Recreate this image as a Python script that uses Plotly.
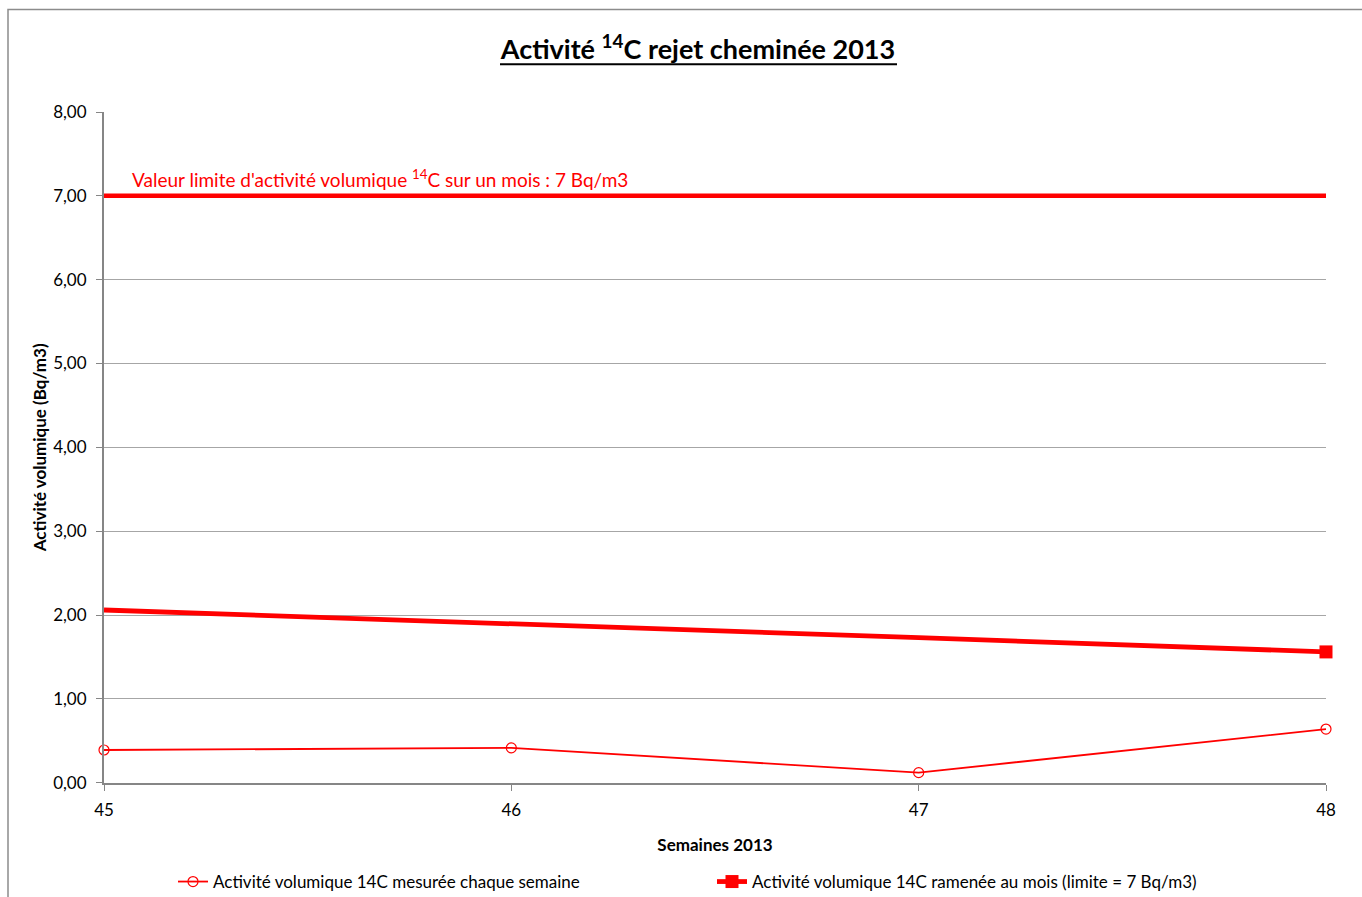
import plotly.graph_objects as go

weeks = [45, 46, 47, 48]
weekly_values = [0.39, 0.415, 0.12, 0.64]
monthly_values = [2.06, 1.90, 1.73, 1.56]
limit_x = [45, 48]
limit_values = [7.0, 7.0]
y_ticks = [0, 1, 2, 3, 4, 5, 6, 7, 8]

FONT = "Lato, Carlito, Calibri, sans-serif"
RED = "#FF0000"

W, H = 1362, 897
L, R, T, B = 104, 36, 112, 111
PW, PH = W - L - R, H - T - B


def px_x(x):
    return (x - L) / PW


def px_y(y):
    return (H - B - y) / PH


fig = go.Figure()

fig.add_trace(go.Scatter(
    x=limit_x, y=limit_values, mode="lines",
    line=dict(color=RED, width=4.5), showlegend=False, hoverinfo="skip",
))

fig.add_trace(go.Scatter(
    x=weeks, y=weekly_values, mode="lines+markers",
    name="Activité volumique 14C mesurée chaque semaine",
    line=dict(color=RED, width=1.8),
    marker=dict(symbol="circle-open", size=10, color=RED, line=dict(width=1.2, color=RED)),
    cliponaxis=False,
))

fig.add_trace(go.Scatter(
    x=weeks, y=monthly_values, mode="lines",
    line=dict(color=RED, width=4.8), showlegend=False,
    cliponaxis=False,
))

# final monthly value carries the square marker (and the legend entry)
fig.add_trace(go.Scatter(
    x=weeks[-1:], y=monthly_values[-1:], mode="lines+markers",
    name="Activité volumique 14C ramenée au mois (limite = 7 Bq/m3)",
    line=dict(color=RED, width=4.8),
    marker=dict(symbol="square", size=13, color=RED),
    cliponaxis=False,
))

fig.add_annotation(
    x=45, y=7.0, xref="x", yref="y",
    text="Valeur limite d'activité volumique <sup>14</sup>C sur un mois : 7 Bq/m3",
    showarrow=False, xanchor="left", yanchor="bottom", xshift=26, yshift=3,
    font=dict(family=FONT, size=19, color=RED),
)

# outer chart border (cropped on right/bottom)
fig.add_shape(type="rect", xref="paper", yref="paper",
              x0=px_x(8), x1=1.3, y0=-0.4, y1=px_y(9),
              line=dict(color="#8C8C8C", width=1.5), fillcolor="rgba(0,0,0,0)", layer="below")

# title underline
fig.add_shape(type="line", xref="paper", yref="paper",
              x0=px_x(500), x1=px_x(897), y0=px_y(64), y1=px_y(64),
              line=dict(color="black", width=1.8))

fig.update_layout(
    width=W, height=H,
    margin=dict(l=L, r=R, t=T, b=B),
    paper_bgcolor="white", plot_bgcolor="white",
    separators=", ",
    font=dict(family=FONT, size=17, color="black"),
    title=dict(
        text="<b>Activité <sup>14</sup>C rejet cheminée 2013</b>",
        xref="container", yref="container",
        x=698 / W, xanchor="center", y=1 - 50 / H, yanchor="middle",
        font=dict(family=FONT, size=27, color="black"),
    ),
    xaxis=dict(
        range=[45, 48], tickvals=weeks, ticktext=[str(w) for w in weeks],
        showgrid=False, zeroline=False,
        showline=True, linecolor="#868686", linewidth=2,
        ticks="outside", ticklen=6, tickcolor="#868686",
        tickfont=dict(family=FONT, size=17), ticklabelstandoff=5,
        title=dict(text="<b>Semaines 2013</b>", font=dict(family=FONT, size=17), standoff=20),
    ),
    yaxis=dict(
        range=[0, 8], tickvals=y_ticks, tickformat=".2f",
        showgrid=True, gridcolor="#A6A6A6", gridwidth=1.3, zeroline=False,
        showline=True, linecolor="#868686", linewidth=2,
        ticks="outside", ticklen=6, tickcolor="#868686",
        tickfont=dict(family=FONT, size=17), ticklabelstandoff=6,
        title=dict(text="<b>Activité volumique (Bq/m3)</b>", font=dict(family=FONT, size=17), standoff=2),
    ),
    legend=dict(
        orientation="h", xref="container", yref="container",
        x=173 / W, y=(H - 882) / H, xanchor="left", yanchor="middle",
        font=dict(family=FONT, size=17), entrywidth=494, entrywidthmode="pixels",
        itemwidth=30, tracegroupgap=0, bgcolor="rgba(0,0,0,0)",
    ),
)

fig.write_html("out.html", config={"displayModeBar": False},
               post_script="document.body.style.margin='0';")
